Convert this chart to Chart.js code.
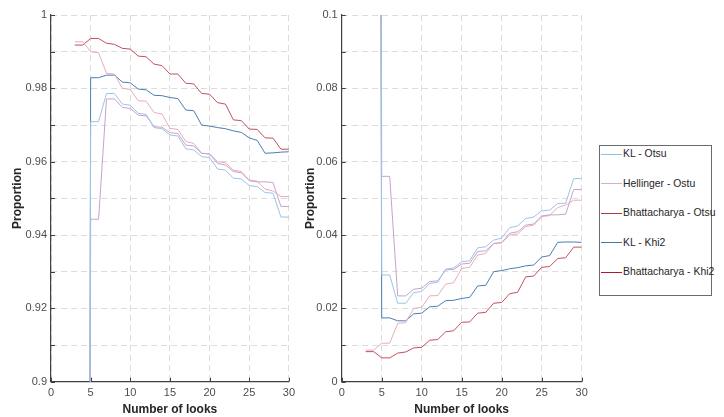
<!DOCTYPE html>
<html>
<head>
<meta charset="utf-8">
<script src="https://cdn.jsdelivr.net/npm/chart.js@4.4.1/dist/chart.umd.min.js"></script>
<style>
  body { margin: 0; background: #fff; width: 724px; height: 417px; overflow: hidden; position: relative; font-family: 'Liberation Sans', Arial, sans-serif; }
  canvas { position: absolute; top: 0; }
  #chartHit { left: 0; }
  #chartMiss { left: 295px; }
  #legend { position: absolute; left: 599px; top: 145px; width: 113px; height: 151px; border: 1px solid #6b6b6b; box-sizing: border-box; background: #fff; }
  .item { position: absolute; left: 1px; height: 14px; line-height: 14px; font-size: 10.4px; color: #262626; white-space: nowrap; }
  .item i { display: inline-block; width: 21px; height: 0; border-top: 1.5px solid; vertical-align: middle; margin-right: 1px; }
</style>
</head>
<body>
<canvas id="chartHit" width="300" height="417"></canvas>
<canvas id="chartMiss" width="300" height="417"></canvas>
<div id="legend"></div>
<script>
const looks = [3, 4, 5, 6, 7, 8, 9, 10, 11, 12, 13, 14, 15, 16, 17, 18, 19, 20, 21, 22, 23, 24, 25, 26, 27, 28, 29, 30];
const seriesNames = ['KL - Otsu', 'Hellinger - Ostu', 'Bhattacharya - Otsu', 'KL - Khi2', 'Bhattacharya - Khi2'];
const lineColors = ['#9cc4e4', '#c8a2cc', '#e5aebb', '#4a7eb0', '#c2505f'];
const legendColors = ['#8dbfe3', '#d3aed3', '#a33a48', '#4677a8', '#b2182b'];

// left panel (0.9 - 1)
const klOtsuL = [0, 0, 0.9709, 0.9709, 0.9786, 0.9786, 0.9757, 0.9754, 0.9732, 0.9729, 0.9693, 0.9690, 0.9673, 0.9670, 0.9635, 0.9632, 0.9614, 0.9611, 0.9580, 0.9577, 0.9555, 0.9553, 0.9535, 0.9532, 0.9516, 0.9514, 0.9449, 0.9449];
const hellOtsuL = [0, 0, 0.9443, 0.9443, 0.9771, 0.9771, 0.9748, 0.9745, 0.9727, 0.9725, 0.9695, 0.9694, 0.9679, 0.9677, 0.9645, 0.9643, 0.9623, 0.9621, 0.9595, 0.9591, 0.9573, 0.9570, 0.9548, 0.9545, 0.9545, 0.9543, 0.9478, 0.9478];
const bhatOtsuL = [0.9927, 0.9927, 0.9900, 0.9897, 0.9841, 0.9839, 0.9800, 0.9797, 0.9766, 0.9765, 0.9734, 0.9730, 0.9691, 0.9688, 0.9655, 0.9650, 0.9623, 0.9621, 0.9600, 0.9597, 0.9577, 0.9573, 0.9550, 0.9547, 0.9525, 0.9520, 0.9505, 0.9505];
const klKhi2L = [0, 0, 0.9829, 0.9829, 0.9836, 0.9836, 0.9817, 0.9815, 0.9798, 0.9796, 0.9781, 0.9780, 0.9775, 0.9772, 0.9741, 0.9739, 0.9700, 0.9697, 0.9693, 0.9690, 0.9684, 0.9680, 0.9665, 0.9658, 0.9623, 0.9624, 0.9626, 0.9627];
const bhatKhi2L = [0.9918, 0.9918, 0.9936, 0.9936, 0.9923, 0.9920, 0.9909, 0.9907, 0.9888, 0.9886, 0.9866, 0.9862, 0.9839, 0.9839, 0.9814, 0.9812, 0.9786, 0.9784, 0.9761, 0.9757, 0.9714, 0.9712, 0.9689, 0.9688, 0.9665, 0.9664, 0.9634, 0.9634];

// right panel (0 - 0.1)
const klOtsuR = [1, 1, 0.0291, 0.0291, 0.0214, 0.0214, 0.0243, 0.0246, 0.0268, 0.0271, 0.0307, 0.0310, 0.0327, 0.0330, 0.0365, 0.0368, 0.0386, 0.0392, 0.0420, 0.0425, 0.0445, 0.0449, 0.0466, 0.0468, 0.0486, 0.0487, 0.0554, 0.0554];
const hellOtsuR = [1, 1, 0.0560, 0.0560, 0.0234, 0.0234, 0.0252, 0.0255, 0.0273, 0.0275, 0.0305, 0.0306, 0.0321, 0.0323, 0.0355, 0.0357, 0.0377, 0.0379, 0.0405, 0.0409, 0.0427, 0.0430, 0.0452, 0.0455, 0.0455, 0.0457, 0.0524, 0.0524];
const bhatOtsuR = [0.0086, 0.0086, 0.0105, 0.0105, 0.0159, 0.0161, 0.0200, 0.0203, 0.0234, 0.0235, 0.0266, 0.0270, 0.0309, 0.0312, 0.0345, 0.0350, 0.0377, 0.0379, 0.0400, 0.0403, 0.0423, 0.0427, 0.0450, 0.0453, 0.0475, 0.0482, 0.0495, 0.0495];
const klKhi2R = [1, 1, 0.0174, 0.0174, 0.0166, 0.0166, 0.0185, 0.0187, 0.0204, 0.0206, 0.0221, 0.0222, 0.0227, 0.0230, 0.0261, 0.0263, 0.0300, 0.0303, 0.0308, 0.0311, 0.0316, 0.0318, 0.0340, 0.0344, 0.0380, 0.0381, 0.0381, 0.0380];
const bhatKhi2R = [0.0082, 0.0082, 0.0065, 0.0065, 0.0078, 0.0081, 0.0092, 0.0094, 0.0113, 0.0115, 0.0136, 0.0139, 0.0162, 0.0163, 0.0187, 0.0189, 0.0214, 0.0216, 0.0240, 0.0244, 0.0286, 0.0288, 0.0312, 0.0314, 0.0336, 0.0338, 0.0367, 0.0367];

const FONT = "'Liberation Sans', Arial, sans-serif";

const innerTicks = {
  id: 'innerTicks',
  afterDatasetsDraw(chart) {
    const { ctx, chartArea: a, scales: { x, y } } = chart;
    ctx.save();
    ctx.strokeStyle = '#404040';
    ctx.lineWidth = 1;
    ctx.beginPath();
    y.ticks.forEach((t) => { const py = Math.round(y.getPixelForValue(t.value)) + 0.5; ctx.moveTo(a.left, py); ctx.lineTo(a.left + 4, py); });
    x.ticks.forEach((t) => { const px = Math.round(x.getPixelForValue(t.value)) + 0.5; ctx.moveTo(px, a.bottom); ctx.lineTo(px, a.bottom - 4); });
    ctx.stroke();
    ctx.restore();
  },
};

function buildChart(id, series, yMin, yMax, yWidth, rightPad, titlePad) {
  return new Chart(document.getElementById(id), {
    type: 'line',
    data: {
      datasets: series.map((values, i) => ({
        label: seriesNames[i],
        data: looks.map((x, j) => ({ x, y: values[j] })),
        borderColor: lineColors[i],
        borderWidth: 1,
        pointRadius: 0,
        tension: 0,
        fill: false,
      })),
    },
    options: {
      responsive: false,
      animation: false,
      layout: { padding: { left: 0, top: 15, right: rightPad, bottom: 0 } },
      plugins: { legend: { display: false }, tooltip: { enabled: false } },
      scales: {
        x: {
          type: 'linear', min: 0, max: 30,
          afterFit: (s) => { s.height = 35.3; },
          border: { color: '#404040', width: 1.2, dash: [6, 4] },
          grid: { color: '#dcdcdc', lineWidth: 1, drawTicks: false },
          ticks: { stepSize: 5, padding: 5, color: '#4d4d4d', font: { family: FONT, size: 11 } },
          title: { display: true, text: 'Number of looks', color: '#262626', font: { family: FONT, size: 12, weight: 'bold' }, padding: { top: 0, bottom: 0 } },
        },
        y: {
          min: yMin, max: yMax,
          afterFit: (s) => { s.width = yWidth; },
          border: { color: '#404040', width: 1.2, dash: [6, 4] },
          grid: { color: '#dcdcdc', lineWidth: 1, drawTicks: false },
          ticks: {
            stepSize: 0.01, padding: 4, autoSkip: false, color: '#4d4d4d', font: { family: FONT, size: 11 },
            callback: (v) => (Math.round(v * 100) % 2 === 0 ? String(+v.toFixed(2)) : ''),
          },
          title: { display: true, text: 'Proportion', color: '#262626', font: { family: FONT, size: 12, weight: 'bold' }, padding: { top: titlePad, bottom: 0 } },
        },
      },
    },
    plugins: [innerTicks],
  });
}

buildChart('chartHit', [klOtsuL, hellOtsuL, bhatOtsuL, klKhi2L, bhatKhi2L], 0.9, 1, 51, 10, 10);
buildChart('chartMiss', [klOtsuR, hellOtsuR, bhatOtsuR, klKhi2R, bhatKhi2R], 0, 0.1, 46.7, 13.3, 8);

const legend = document.getElementById('legend');
const legendTops = [1, 30.5, 60, 89.5, 119];
seriesNames.forEach((name, i) => {
  const row = document.createElement('div');
  row.className = 'item';
  row.style.top = legendTops[i] + 'px';
  row.innerHTML = '<i style="border-color:' + legendColors[i] + '"></i>' + name;
  legend.appendChild(row);
});
</script>
</body>
</html>
